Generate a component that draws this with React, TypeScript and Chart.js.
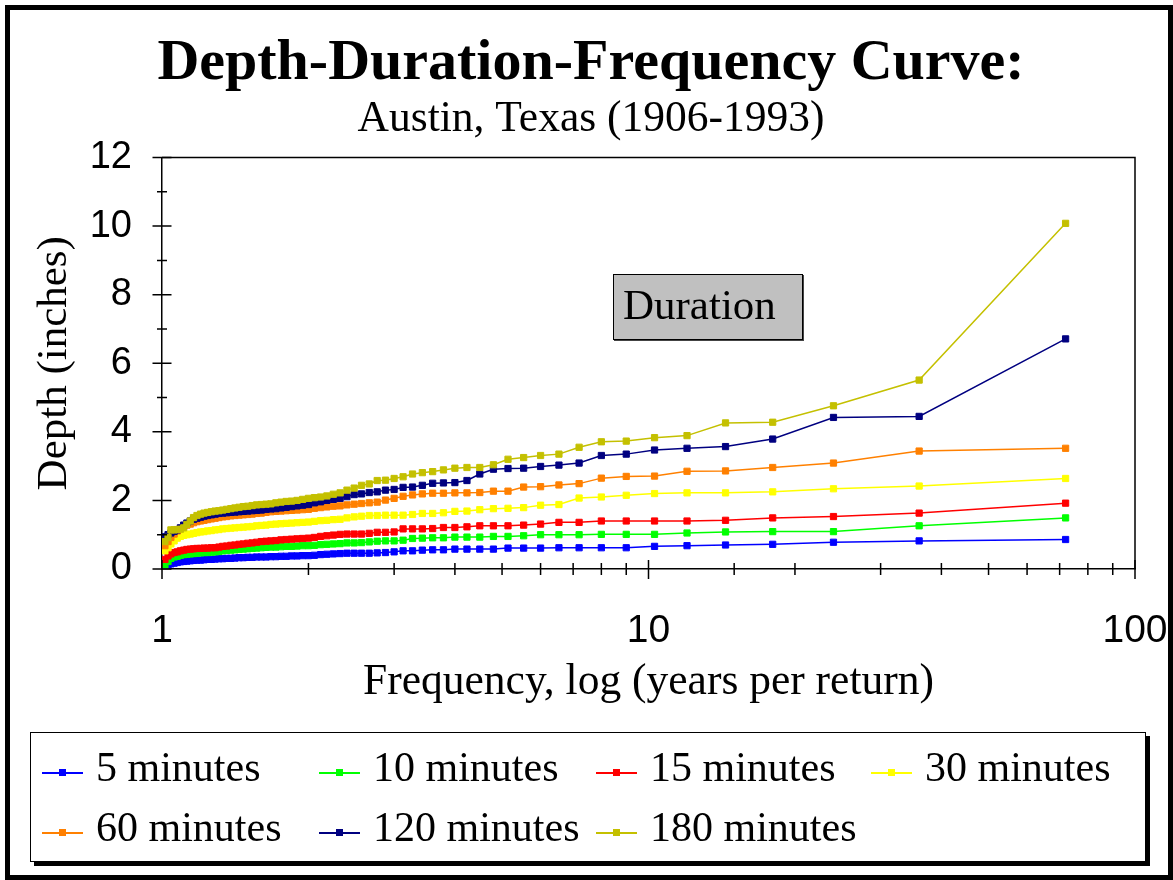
import React, { useEffect, useRef } from "react";
import { Chart, registerables } from "chart.js";

Chart.register(...registerables);

const TITLE = "Depth-Duration-Frequency Curve:";
const SUBTITLE = "Austin, Texas (1906-1993)";
const X_TITLE = "Frequency, log (years per return)";
const Y_TITLE = "Depth (inches)";
const NOTE = "Duration";
const X_LABELS = [1, 10, 100];

// return period (years per return) of each ranked event
const RETURN_PERIOD = [
  72, 36, 24, 18, 14.4, 12, 10.29, 9, 8, 7.2,
  6.545, 6, 5.538, 5.143, 4.8, 4.5, 4.235, 4, 3.789, 3.6,
  3.429, 3.273, 3.13, 3, 2.88, 2.769, 2.667, 2.571, 2.483, 2.4,
  2.323, 2.25, 2.182, 2.118, 2.057, 2, 1.946, 1.895, 1.846, 1.8,
  1.756, 1.714, 1.674, 1.636, 1.6, 1.565, 1.532, 1.5, 1.469, 1.44,
  1.412, 1.385, 1.358, 1.333, 1.309, 1.286, 1.263, 1.241, 1.22, 1.2,
  1.18, 1.161, 1.143, 1.125, 1.108, 1.091, 1.075, 1.059, 1.043, 1.029,
  1.014,
];

const MIN5 = [
  0.86, 0.82, 0.78, 0.72, 0.7, 0.68, 0.66, 0.62, 0.62, 0.62,
  0.62, 0.61, 0.61, 0.61, 0.58, 0.58, 0.58, 0.58, 0.56, 0.56,
  0.55, 0.53, 0.53, 0.5, 0.48, 0.47, 0.46, 0.46, 0.46, 0.46,
  0.45, 0.44, 0.43, 0.42, 0.4, 0.39, 0.39, 0.38, 0.38, 0.37,
  0.37, 0.36, 0.36, 0.35, 0.35, 0.35, 0.34, 0.34, 0.33, 0.33,
  0.32, 0.31, 0.31, 0.3, 0.3, 0.29, 0.28, 0.28, 0.27, 0.26,
  0.26, 0.25, 0.24, 0.23, 0.22, 0.21, 0.19, 0.17, 0.15, 0.12,
  0.06,
];
const MIN10 = [
  1.49, 1.26, 1.09, 1.09, 1.08, 1.05, 1.01, 1.01, 1.01, 1.0,
  1.0, 1.0, 0.97, 0.95, 0.95, 0.93, 0.93, 0.93, 0.91, 0.91,
  0.9, 0.89, 0.84, 0.82, 0.82, 0.81, 0.79, 0.77, 0.76, 0.76,
  0.74, 0.73, 0.72, 0.71, 0.69, 0.68, 0.68, 0.67, 0.66, 0.66,
  0.65, 0.64, 0.64, 0.63, 0.62, 0.61, 0.6, 0.59, 0.58, 0.57,
  0.56, 0.55, 0.54, 0.53, 0.51, 0.5, 0.49, 0.48, 0.48, 0.47,
  0.46, 0.45, 0.44, 0.43, 0.42, 0.4, 0.37, 0.35, 0.31, 0.22,
  0.12,
];
const MIN15 = [
  1.92, 1.63, 1.53, 1.49, 1.42, 1.4, 1.4, 1.4, 1.4, 1.36,
  1.36, 1.31, 1.28, 1.26, 1.26, 1.26, 1.23, 1.21, 1.21, 1.18,
  1.17, 1.17, 1.17, 1.08, 1.07, 1.07, 1.04, 1.02, 1.02, 1.02,
  1.01, 0.99, 0.97, 0.95, 0.92, 0.9, 0.89, 0.88, 0.87, 0.86,
  0.85, 0.83, 0.82, 0.81, 0.8, 0.78, 0.76, 0.75, 0.73, 0.72,
  0.7, 0.69, 0.67, 0.66, 0.64, 0.62, 0.62, 0.61, 0.61, 0.6,
  0.6, 0.59, 0.58, 0.57, 0.55, 0.53, 0.5, 0.48, 0.44, 0.38,
  0.28,
];
const MIN30 = [
  2.64, 2.42, 2.34, 2.25, 2.22, 2.22, 2.2, 2.15, 2.1, 2.07,
  1.88, 1.86, 1.79, 1.77, 1.76, 1.73, 1.69, 1.68, 1.64, 1.62,
  1.62, 1.59, 1.57, 1.57, 1.57, 1.56, 1.56, 1.54, 1.52, 1.49,
  1.45, 1.44, 1.42, 1.41, 1.39, 1.37, 1.36, 1.35, 1.34, 1.33,
  1.32, 1.31, 1.3, 1.28, 1.27, 1.26, 1.24, 1.23, 1.22, 1.21,
  1.2, 1.19, 1.18, 1.17, 1.15, 1.14, 1.12, 1.11, 1.09, 1.08,
  1.06, 1.04, 1.02, 1.0, 0.98, 0.95, 0.9, 0.82, 0.73, 0.62,
  0.53,
];
const MIN60 = [
  3.52, 3.44, 3.09, 2.96, 2.86, 2.85, 2.71, 2.7, 2.65, 2.49,
  2.45, 2.4, 2.39, 2.27, 2.27, 2.23, 2.22, 2.22, 2.21, 2.21,
  2.19, 2.16, 2.12, 2.06, 2.01, 1.95, 1.93, 1.91, 1.89, 1.87,
  1.84, 1.83, 1.81, 1.79, 1.77, 1.74, 1.73, 1.72, 1.71, 1.7,
  1.69, 1.68, 1.67, 1.65, 1.63, 1.62, 1.6, 1.59, 1.58, 1.57,
  1.56, 1.55, 1.53, 1.52, 1.5, 1.48, 1.46, 1.44, 1.42, 1.4,
  1.38, 1.35, 1.31, 1.28, 1.24, 1.18, 1.11, 1.02, 0.92, 0.8,
  0.68,
];
const MIN120 = [
  6.71, 4.45, 4.42, 3.79, 3.57, 3.52, 3.47, 3.35, 3.31, 3.09,
  3.03, 2.99, 2.94, 2.93, 2.91, 2.77, 2.58, 2.52, 2.51, 2.5,
  2.44, 2.39, 2.38, 2.32, 2.3, 2.25, 2.23, 2.19, 2.17, 2.11,
  2.06, 2.03, 2.0, 1.96, 1.93, 1.88, 1.86, 1.84, 1.82, 1.8,
  1.78, 1.76, 1.75, 1.74, 1.72, 1.71, 1.7, 1.69, 1.68, 1.67,
  1.66, 1.65, 1.64, 1.63, 1.62, 1.6, 1.58, 1.56, 1.54, 1.51,
  1.48, 1.45, 1.4, 1.34, 1.28, 1.2, 1.14, 1.1, 1.05, 1.0,
  0.94,
];
const MIN180 = [
  10.08, 5.51, 4.76, 4.28, 4.26, 3.89, 3.83, 3.73, 3.71, 3.55,
  3.35, 3.31, 3.25, 3.2, 3.04, 2.96, 2.96, 2.94, 2.89, 2.84,
  2.81, 2.77, 2.69, 2.64, 2.59, 2.58, 2.48, 2.44, 2.36, 2.3,
  2.22, 2.18, 2.13, 2.1, 2.08, 2.06, 2.03, 2.0, 1.98, 1.97,
  1.95, 1.93, 1.9, 1.89, 1.88, 1.87, 1.85, 1.83, 1.82, 1.8,
  1.78, 1.76, 1.74, 1.72, 1.7, 1.69, 1.67, 1.65, 1.63, 1.6,
  1.56, 1.5, 1.4, 1.3, 1.2, 1.16, 1.15, 1.14, 1.14, 0.92,
  0.8,
];

const SERIES_NAMES = [
  "5 minutes", "10 minutes", "15 minutes", "30 minutes",
  "60 minutes", "120 minutes", "180 minutes",
];
const SERIES_VALUES = [MIN5, MIN10, MIN15, MIN30, MIN60, MIN120, MIN180];
const SERIES_COLORS = [
  "#0000FF", "#00FF00", "#FF0000", "#FFFF00", "#FF8000", "#000080", "#C4C000",
];

const SERIF = "'Liberation Serif', 'Times New Roman', serif";
const SANS = "'Liberation Sans', Arial, sans-serif";

const tickMarksPlugin = {
  id: "tickMarks",
  afterDraw(chart: any) {
    const { ctx, chartArea, scales } = chart;
    const xs = scales.x;
    const ys = scales.y;
    ctx.save();
    ctx.strokeStyle = "#000";
    ctx.lineWidth = 1.5;
    ctx.beginPath();
    ctx.moveTo(chartArea.left, chartArea.top);
    ctx.lineTo(chartArea.right, chartArea.top);
    ctx.lineTo(chartArea.right, chartArea.bottom);
    ctx.stroke();
    ctx.beginPath();
    for (const t of ys.ticks) {
      const p = ys.getPixelForValue(t.value);
      const major = t.value % 2 === 0;
      const h = major ? 9.5 : 5;
      ctx.moveTo(chartArea.left - h, p);
      ctx.lineTo(chartArea.left + h, p);
    }
    for (const t of xs.ticks) {
      const p = xs.getPixelForValue(t.value);
      const lg = Math.log10(t.value);
      const major = Math.abs(lg - Math.round(lg)) < 1e-9;
      ctx.moveTo(p, chartArea.bottom - (major ? 9 : 6));
      ctx.lineTo(p, chartArea.bottom + (major ? 10 : 6));
    }
    ctx.stroke();
    ctx.restore();
  },
};

function LegendItem({ name, color }: { name: string; color: string }) {
  return (
    <div style={{ display: "flex", alignItems: "center", height: 60 }}>
      <div style={{ position: "relative", width: 41, height: 60, flex: "none" }}>
        <div style={{ position: "absolute", left: 0, top: 35, width: 41, height: 1.5, background: color }} />
        <div style={{ position: "absolute", left: 17, top: 32, width: 7, height: 7, background: color }} />
      </div>
      <span style={{ marginLeft: 13, fontFamily: SERIF, fontSize: 42, lineHeight: "60px", color: "#000", whiteSpace: "nowrap" }}>
        {name}
      </span>
    </div>
  );
}

export default function App() {
  const canvasRef = useRef<HTMLCanvasElement | null>(null);

  useEffect(() => {
    const canvas = canvasRef.current;
    if (!canvas) return;
    const datasets = SERIES_NAMES.map((name, i) => ({
      label: name,
      data: RETURN_PERIOD.map((t, k) => ({ x: t, y: SERIES_VALUES[i][k] })),
      borderColor: SERIES_COLORS[i],
      backgroundColor: SERIES_COLORS[i],
      borderWidth: 1.5,
      pointStyle: "rect",
      pointRadius: 4.4,
      pointBorderWidth: 1,
      pointBorderColor: SERIES_COLORS[i],
      pointBackgroundColor: SERIES_COLORS[i],
      tension: 0,
      order: SERIES_NAMES.length - 1 - i,
    }));
    const chart = new Chart(canvas, {
      type: "line",
      data: { datasets },
      plugins: [tickMarksPlugin],
      options: {
        responsive: false,
        animation: false,
        devicePixelRatio: 1,
        layout: { padding: { left: 47, right: 38, top: 0, bottom: 160 } },
        plugins: {
          legend: { display: false },
          tooltip: { enabled: false },
          title: {
            display: true,
            text: TITLE,
            color: "#000",
            font: { family: SERIF, size: 58, weight: "bold", lineHeight: 1 },
            padding: { top: 35, bottom: 0 },
          },
          subtitle: {
            display: true,
            text: SUBTITLE,
            color: "#000",
            font: { family: SERIF, size: 43.5, lineHeight: 1 },
            padding: { top: 5, bottom: 16 },
          },
        },
        scales: {
          x: {
            type: "logarithmic",
            min: 1,
            max: 100,
            grid: { display: false, drawTicks: true, tickLength: 39 },
            border: { display: true, color: "#000", width: 1.5 },
            ticks: {
              color: "#000",
              font: { family: SANS, size: 39, lineHeight: 1.2 },
              padding: 0,
              autoSkip: false,
              maxRotation: 0,
              callback: (v: any) => (X_LABELS.includes(Number(v)) ? String(v) : ""),
            },
            title: {
              display: true,
              text: X_TITLE,
              color: "#000",
              font: { family: SERIF, size: 43.5, lineHeight: 1.2 },
              padding: { top: 0, bottom: 11 },
            },
            afterFit: (s: any) => {
              s.height = 151;
            },
          },
          y: {
            min: 0,
            max: 12,
            grid: { display: false, drawTicks: true, tickLength: 30 },
            border: { display: true, color: "#000", width: 1.5 },
            ticks: {
              stepSize: 1,
              autoSkip: false,
              color: "#000",
              font: { family: SANS, size: 38, lineHeight: 1.2 },
              padding: 0,
              callback: (v: any) => (Number(v) % 2 === 0 ? String(v) : ""),
            },
            title: {
              display: true,
              text: Y_TITLE,
              color: "#000",
              font: { family: SERIF, size: 43, lineHeight: 1.2 },
              padding: { top: -17.8, bottom: 0 },
            },
            afterFit: (s: any) => {
              s.width = 115;
            },
          },
        },
      },
    } as any);
    return () => chart.destroy();
  }, []);

  return (
    <div style={{ position: "absolute", left: 0, top: 0, width: 1173, height: 880, background: "#fff", overflow: "hidden" }}>
      <canvas ref={canvasRef} width={1173} height={880} style={{ position: "absolute", left: 0, top: 0, width: 1173, height: 880 }} />
      <div style={{ position: "absolute", left: 5, top: 5, width: 1168, height: 875, border: "5px solid #000", boxSizing: "border-box", pointerEvents: "none" }} />
      <div
        style={{
          position: "absolute", left: 613, top: 274, width: 190, height: 66,
          background: "#C0C0C0", border: "1px solid #000", boxShadow: "1px 1px 0 #444",
          boxSizing: "border-box", fontFamily: SERIF, fontSize: 43, lineHeight: "60px",
          paddingLeft: 9, color: "#000", whiteSpace: "nowrap",
        }}
      >
        {NOTE}
      </div>
      <div
        style={{
          position: "absolute", left: 30, top: 732, width: 1116, height: 130,
          border: "1px solid #000", boxShadow: "4px 4px 0 #000", background: "#fff",
          boxSizing: "border-box", paddingLeft: 11, paddingTop: 4,
          display: "grid", gridTemplateColumns: "277px 277px 275px 277px", gridAutoRows: "60px",
        }}
      >
        {SERIES_NAMES.map((n, i) => (
          <LegendItem key={n} name={n} color={SERIES_COLORS[i]} />
        ))}
      </div>
    </div>
  );
}
